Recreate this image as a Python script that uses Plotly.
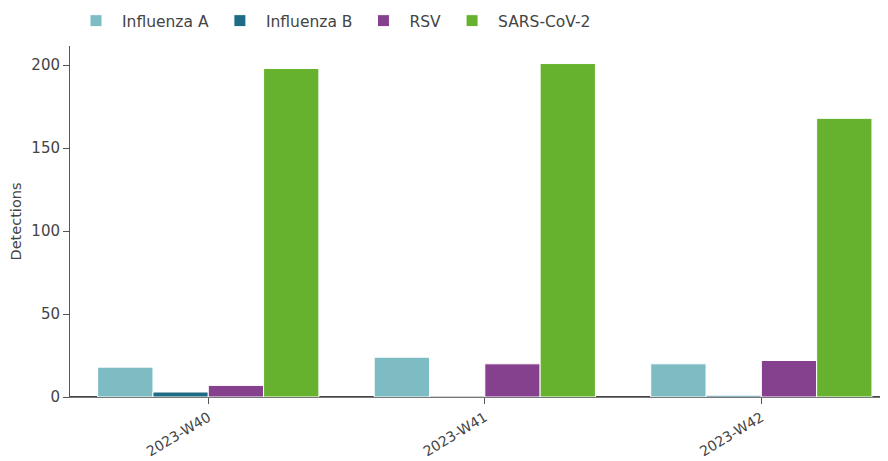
import plotly.graph_objects as go

# weekly detections by pathogen
weeks = ["2023-W40", "2023-W41", "2023-W42"]
flu_a = [18, 24, 20]
flu_b = [3, 0, 1]
rsv = [7, 20, 22]
sars_cov_2 = [198, 201, 168]

series = [
    ("Influenza A", flu_a, "#7dbcc3"),
    ("Influenza B", flu_b, "#1d6b84"),
    ("RSV", rsv, "#86418e"),
    ("SARS-CoV-2", sars_cov_2, "#66b22f"),
]

fig = go.Figure()
for name, vals, color in series:
    fig.add_trace(go.Bar(
        x=weeks, y=vals, name=name,
        marker=dict(color=color, line=dict(color="white", width=1)),
    ))

# page body has an 8px margin, so the figure is a bit smaller than the window
fig.update_layout(
    width=880, height=453,
    barmode="group", bargap=0.2, bargroupgap=0,
    plot_bgcolor="white", paper_bgcolor="white",
    font=dict(family="DejaVu Sans", size=15, color="#444"),
    margin=dict(l=62, r=0, t=38, b=64, autoexpand=False),
    legend=dict(orientation="h", x=0.0, y=1.071, xanchor="left", yanchor="middle",
                itemwidth=42, font=dict(size=15.5)),
    xaxis=dict(range=[-0.5, 2.458], tickangle=-31, ticks="outside", ticklen=6,
               tickcolor="#555", showline=True, linecolor="#777", linewidth=1,
               showgrid=False, tickfont=dict(size=14)),
    yaxis=dict(title=dict(text="Detections", font=dict(size=14.5), standoff=12),
               ticks="outside", ticklen=6, tickcolor="#555",
               showline=True, linecolor="#555", linewidth=1,
               showgrid=False, zeroline=True, zerolinecolor="#444", zerolinewidth=2,
               tickfont=dict(size=15)),
)

fig.write_html("out.html")
